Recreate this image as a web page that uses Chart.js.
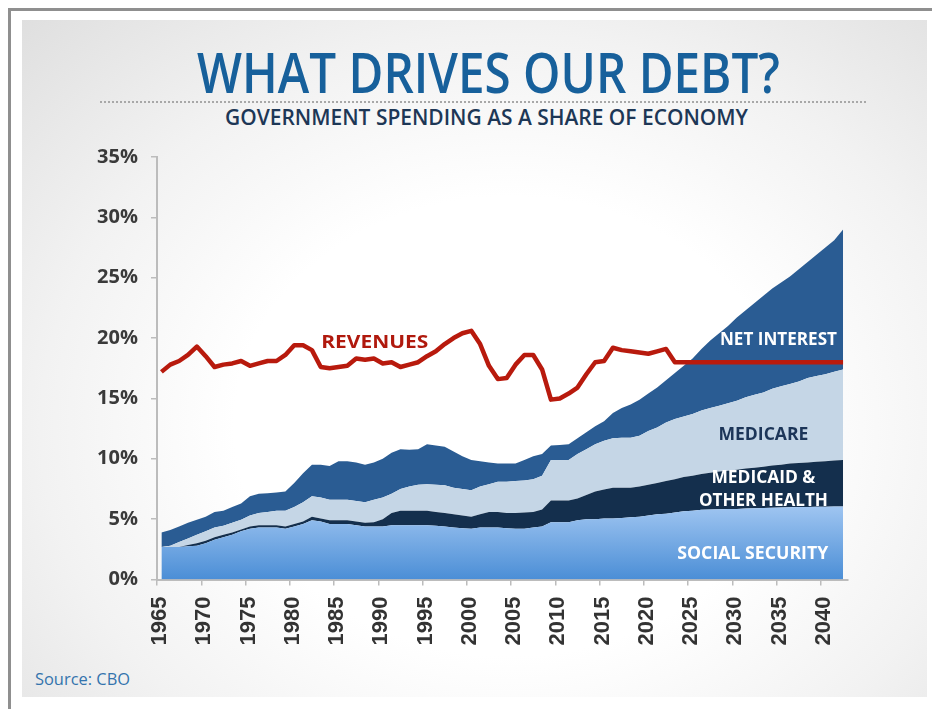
<!DOCTYPE html>
<html>
<head>
<meta charset="utf-8">
<title>What drives our debt?</title>
<script src="https://cdn.jsdelivr.net/npm/chart.js@4.4.1/dist/chart.umd.min.js"></script>
<style>
	html, body
	{
		margin: 0;
		padding: 0;
		background: #ffffff;
	}
	div.page
	{
		position: relative;
		width: 932px;
		height: 709px;
		overflow: hidden;
		font-family: "Open Sans", sans-serif;
	}
	div.frame
	{
		position: absolute;
		left: 8px;
		top: 8px;
		width: 940px;
		height: 720px;
		border-left: 3px solid #8f8f8f;
		border-top: 3px solid #8f8f8f;
	}
	div.panel
	{
		position: absolute;
		left: 22px;
		top: 20px;
		width: 905px;
		height: 677px;
		background: radial-gradient(ellipse farthest-corner at 54% 60%, #ffffff 40%, #f2f2f2 68%, #dfdfdf 100%);
	}
	div.text
	{
		position: absolute;
		white-space: nowrap;
		transform-origin: 0 0;
	}
	div.title
	{
		left: 197px;
		top: 43px;
		font-size: 56px;
		line-height: 56px;
		font-weight: 600;
		color: #17609b;
	}
	div.subtitle
	{
		left: 225px;
		top: 107px;
		font-size: 21px;
		line-height: 21px;
		font-weight: 600;
		color: #1d3756;
	}
	div.source
	{
		left: 35px;
		top: 670px;
		font-size: 17px;
		line-height: 17px;
		color: #3474ad;
	}
	div.dots
	{
		position: absolute;
		left: 100px;
		top: 101px;
		width: 768px;
		height: 2px;
		background: repeating-linear-gradient(to right, #a8a8a8 0 2px, transparent 2px 4px);
	}
	canvas
	{
		position: absolute;
		left: 0;
		top: 0;
	}
</style>
</head>
<body>
<div class="page">
	<div class="frame"></div>
	<div class="panel"></div>
	<div class="text title" data-width="583">WHAT DRIVES OUR DEBT?</div>
	<div class="dots"></div>
	<div class="text subtitle" data-width="523">GOVERNMENT SPENDING AS A SHARE OF ECONOMY</div>
	<div class="text source" data-width="95">Source: CBO</div>
	<canvas id="chart" width="932" height="709"></canvas>
</div>
<script>
// fiscal years, percent of GDP (CBO)
let years = [
	1965, 1966, 1967, 1968, 1969, 1970, 1971, 1972, 1973, 1974,
	1975, 1976, 1977, 1978, 1979, 1980, 1981, 1982, 1983, 1984,
	1985, 1986, 1987, 1988, 1989, 1990, 1991, 1992, 1993, 1994,
	1995, 1996, 1997, 1998, 1999, 2000, 2001, 2002, 2003, 2004,
	2005, 2006, 2007, 2008, 2009, 2010, 2011, 2012, 2013, 2014,
	2015, 2016, 2017, 2018, 2019, 2020, 2021, 2022, 2023, 2024,
	2025, 2026, 2027, 2028, 2029, 2030, 2031, 2032, 2033, 2034,
	2035, 2036, 2037, 2038, 2039, 2040, 2041, 2042];
let social_security = [
	2.7, 2.7, 2.7, 2.75, 2.8, 3.0, 3.3, 3.5, 3.7, 4.0,
	4.2, 4.3, 4.3, 4.3, 4.2, 4.4, 4.6, 4.9, 4.8, 4.6,
	4.6, 4.6, 4.5, 4.4, 4.4, 4.4, 4.5, 4.5, 4.5, 4.5,
	4.5, 4.45, 4.4, 4.3, 4.25, 4.2, 4.3, 4.3, 4.3, 4.25,
	4.2, 4.2, 4.3, 4.4, 4.75, 4.75, 4.75, 4.9, 5.0, 5.0,
	5.05, 5.05, 5.1, 5.15, 5.2, 5.3, 5.4, 5.45, 5.55, 5.65,
	5.7, 5.78, 5.8, 5.82, 5.84, 5.85, 5.88, 5.9, 5.92, 5.95,
	5.97, 5.98, 6.0, 6.0, 6.02, 6.03, 6.04, 6.05];
let medicaid = [
	0, 0, 0, 0.1, 0.2, 0.2, 0.2, 0.2, 0.2, 0.15,
	0.2, 0.2, 0.2, 0.2, 0.2, 0.2, 0.2, 0.3, 0.25, 0.3,
	0.3, 0.3, 0.3, 0.3, 0.35, 0.6, 1.0, 1.2, 1.2, 1.2,
	1.2, 1.15, 1.1, 1.1, 1.05, 1.0, 1.1, 1.3, 1.3, 1.25,
	1.3, 1.35, 1.3, 1.4, 1.8, 1.8, 1.8, 1.8, 2.0, 2.3,
	2.4, 2.55, 2.5, 2.45, 2.5, 2.55, 2.6, 2.7, 2.75, 2.85,
	2.9, 2.97, 3.05, 3.13, 3.16, 3.25, 3.32, 3.35, 3.43, 3.5,
	3.53, 3.62, 3.65, 3.7, 3.73, 3.77, 3.81, 3.85];
let medicare = [
	0, 0.1, 0.4, 0.55, 0.7, 0.8, 0.8, 0.75, 0.8, 0.8,
	0.9, 1.0, 1.1, 1.2, 1.3, 1.4, 1.6, 1.7, 1.75, 1.7,
	1.7, 1.7, 1.7, 1.7, 1.85, 1.8, 1.6, 1.8, 2.0, 2.15,
	2.2, 2.25, 2.3, 2.2, 2.2, 2.2, 2.3, 2.3, 2.5, 2.6,
	2.65, 2.65, 2.7, 2.8, 3.35, 3.35, 3.35, 3.7, 3.8, 3.9,
	4.05, 4.1, 4.15, 4.15, 4.2, 4.45, 4.6, 4.85, 5.0, 5.0,
	5.1, 5.25, 5.35, 5.45, 5.6, 5.7, 5.9, 6.05, 6.15, 6.35,
	6.5, 6.6, 6.75, 7.0, 7.1, 7.2, 7.35, 7.5];
let net_interest = [
	1.2, 1.3, 1.3, 1.3, 1.25, 1.2, 1.3, 1.25, 1.3, 1.35,
	1.6, 1.6, 1.55, 1.5, 1.6, 2.0, 2.4, 2.6, 2.7, 2.8,
	3.2, 3.2, 3.2, 3.1, 3.1, 3.2, 3.4, 3.3, 3.05, 2.95,
	3.3, 3.25, 3.2, 3.0, 2.7, 2.5, 2.1, 1.8, 1.5, 1.5,
	1.45, 1.7, 1.9, 1.8, 1.2, 1.25, 1.3, 1.3, 1.4, 1.5,
	1.6, 2.1, 2.45, 2.75, 3.0, 3.1, 3.3, 3.5, 3.8, 4.2,
	4.6, 5.1, 5.6, 6.0, 6.4, 6.9, 7.2, 7.6, 8.0, 8.3,
	8.6, 8.9, 9.3, 9.6, 10.05, 10.5, 10.9, 11.6];
let revenues = [
	17.2, 17.8, 18.1, 18.6, 19.3, 18.5, 17.6, 17.8, 17.9, 18.1,
	17.7, 17.9, 18.1, 18.1, 18.6, 19.4, 19.4, 19.0, 17.6, 17.5,
	17.6, 17.7, 18.3, 18.2, 18.3, 17.9, 18.0, 17.6, 17.8, 18.0,
	18.5, 18.9, 19.5, 20.0, 20.4, 20.6, 19.5, 17.7, 16.6, 16.7,
	17.8, 18.6, 18.6, 17.4, 14.9, 15.0, 15.4, 15.9, 17.0, 18.0,
	18.1, 19.2, 19.0, 18.9, 18.8, 18.7, 18.9, 19.1, 18.0, 18.0,
	18.0, 18.0, 18.0, 18.0, 18.0, 18.0, 18.0, 18.0, 18.0, 18.0,
	18.0, 18.0, 18.0, 18.0, 18.0, 18.0, 18.0, 18.0];
let x_ticks = [1965, 1970, 1975, 1980, 1985, 1990, 1995, 2000, 2005, 2010, 2015, 2020, 2025, 2030, 2035, 2040];
let y_ticks = [0, 5, 10, 15, 20, 25, 30, 35];

let area_labels = [
	{text: 'REVENUES', year: 1989.6, value: 19.7, width: 107, color: '#b0190d'},
	{text: 'NET INTEREST', year: 2035.2, value: 20.0, width: 117, color: '#ffffff'},
	{text: 'MEDICARE', year: 2033.5, value: 12.1, width: 90, color: '#1c3558'},
	{text: 'MEDICAID &', year: 2033.5, value: 8.5, width: 104, color: '#ffffff'},
	{text: 'OTHER HEALTH', year: 2033.5, value: 6.65, width: 129, color: '#ffffff'},
	{text: 'SOCIAL SECURITY', year: 2032.3, value: 2.2, width: 151, color: '#ffffff'}];

// values are yearly, drawn at mid-year
function points(values)
{
	return values.map(function(v, i)
		{
			return {x: years[i] + 0.5, y: v};
		});
}

function fitText()
{
	document.querySelectorAll('div.text').forEach(function(node)
		{
			let width = node.getBoundingClientRect().width;
			let target = Number(node.getAttribute('data-width'));
			node.style.transform = 'scaleX(' + (target / width) + ')';
		});
}

let labels_plugin = {
	id: 'area_labels',
	afterDatasetsDraw: function(chart)
		{
			let ctx = chart.ctx;
			let size = 18;
			ctx.save();
			ctx.font = '700 ' + size + 'px "Open Sans"';
			ctx.textAlign = 'center';
			ctx.textBaseline = 'alphabetic';
			for(let item of area_labels)
			{
				let x = chart.scales.x.getPixelForValue(item.year);
				let y = chart.scales.y.getPixelForValue(item.value);
				let w = ctx.measureText(item.text).width;
				ctx.save();
				ctx.translate(x, y + size * 0.36);
				ctx.scale(item.width / w, 1);
				ctx.fillStyle = item.color;
				ctx.fillText(item.text, 0, 0);
				ctx.restore();
			}
			ctx.restore();
		}
};

function socialSecurityFill(context)
{
	let chart = context.chart;
	if(!chart.chartArea)
	{
		return '#78aae6';
	}
	let top = chart.scales.y.getPixelForValue(6.5);
	let bottom = chart.scales.y.getPixelForValue(0);
	let gradient = chart.ctx.createLinearGradient(0, top, 0, bottom);
	gradient.addColorStop(0, '#a5c9f3');
	gradient.addColorStop(1, '#4b8ed6');
	return gradient;
}

fitText();

let axis_color = '#bcbcbc';
let chart = new Chart(document.getElementById('chart'),
	{
		type: 'line',
		data:
			{
				datasets:
					[
						{
							label: 'Revenues',
							data: points(revenues),
							stack: 'revenues',
							borderColor: '#b81a0d',
							borderWidth: 4.5,
							borderJoinStyle: 'round',
							fill: false,
							pointRadius: 0
						},
						{
							label: 'Social Security',
							data: points(social_security),
							stack: 'spending',
							borderWidth: 0,
							backgroundColor: socialSecurityFill,
							fill: 'origin',
							pointRadius: 0
						},
						{
							label: 'Medicaid & other health',
							data: points(medicaid),
							stack: 'spending',
							borderWidth: 0,
							backgroundColor: '#142f4d',
							fill: '-1',
							pointRadius: 0
						},
						{
							label: 'Medicare',
							data: points(medicare),
							stack: 'spending',
							borderWidth: 0,
							backgroundColor: '#c5d6e6',
							fill: '-1',
							pointRadius: 0
						},
						{
							label: 'Net interest',
							data: points(net_interest),
							stack: 'spending',
							borderWidth: 0,
							backgroundColor: '#2a5c93',
							fill: '-1',
							pointRadius: 0
						}
					]
			},
		options:
			{
				responsive: false,
				animation: false,
				devicePixelRatio: 1,
				layout:
					{
						padding: {top: 157, right: 84.5, left: 0, bottom: 0}
					},
				plugins:
					{
						legend: {display: false},
						tooltip: {enabled: false}
					},
				elements:
					{
						line: {tension: 0}
					},
				scales:
					{
						x:
							{
								type: 'linear',
								min: 1965,
								max: 2043,
								afterBuildTicks: function(scale)
									{
										scale.ticks = x_ticks.map(function(v) { return {value: v}; });
									},
								afterFit: function(scale)
									{
										scale.height = 129.5;
									},
								border: {display: true, color: axis_color, width: 2},
								grid: {drawOnChartArea: false, color: axis_color, lineWidth: 1.5, tickLength: 6},
								ticks:
									{
										autoSkip: false,
										minRotation: 90,
										maxRotation: 90,
										padding: 11,
										labelOffset: 3,
										color: '#333333',
										font: {family: '"Liberation Sans"', size: 22, weight: 'bold'},
										callback: function(value)
											{
												return String(value);
											}
									}
							},
						y:
							{
								stacked: true,
								min: 0,
								max: 35,
								afterBuildTicks: function(scale)
									{
										scale.ticks = y_ticks.map(function(v) { return {value: v}; });
									},
								afterFit: function(scale)
									{
										scale.width = 157;
									},
								border: {display: true, color: axis_color, width: 2},
								grid: {drawOnChartArea: false, color: axis_color, lineWidth: 1.5, tickLength: 6},
								ticks:
									{
										padding: 13,
										color: '#3a3a3a',
										font: {family: '"Open Sans"', size: 20, weight: 'bold'},
										callback: function(value)
											{
												return value + '%';
											}
									}
							}
					}
			},
		plugins: [labels_plugin]
	});
</script>
</body>
</html>
